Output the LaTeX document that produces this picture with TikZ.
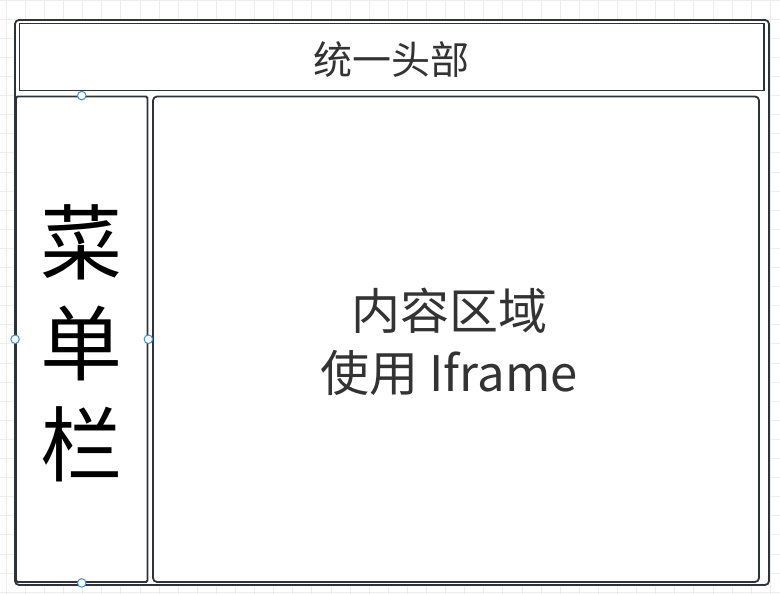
\documentclass[tikz,border=0pt]{standalone}
\usepackage{fontspec}
\newfontfamily\cjk{Noto Sans CJK SC}
\usetikzlibrary{positioning}
\definecolor{Ink}{HTML}{2E333A}
\definecolor{Label}{HTML}{333333}
\definecolor{GridLine}{HTML}{EDEDED}
\definecolor{Handle}{HTML}{3A8EE6}

\tikzset{
  panel/.style={draw=Ink,line width=1.8pt,inner sep=0pt,fill=white},
  handle/.style={circle,draw=Handle,fill=white,line width=1pt,minimum size=8.5pt,inner sep=0pt}
}

\begin{document}
\begin{tikzpicture}[x=1pt,y=-1pt]
\useasboundingbox (0,0) rectangle (780,594);
% background grid
\foreach \gx in {0,...,40} \draw[GridLine,line width=0.8pt] ({6.2+19.1*\gx},0) -- ++(0,594);
\foreach \gy in {0,...,31} \draw[GridLine,line width=0.8pt] (0,{19.1*\gy}) -- ++(780,0);
% frames
\node[panel,rounded corners=4pt,minimum width=754pt,minimum height=565pt] (outer) at (392,302.5) {};
\node[panel,minimum width=744.5pt,minimum height=67pt] (header) at (391.75,57) {};
\node[panel,rounded corners=1.5pt,minimum width=131.5pt,minimum height=485.5pt] (menu) at (81.75,339.25) {};
\node[panel,rounded corners=4pt,minimum width=606pt,minimum height=485.5pt] (content) at (456,339.25) {};
% labels
\node[font={\cjk\fontsize{39}{44}\selectfont},text=Label] (headertext) at (391,60) {统一头部};
\node[font={\cjk\fontsize{82}{101}\selectfont},text=black,align=center] (menutext) at (82,343) {菜\\单\\栏};
\node[font={\cjk\fontsize{49}{62}\selectfont},text=Label,align=center] (contenttext) at (449,342) {内容区域\\使用 Iframe};
% selection handles
\node[handle] (hn) at (menu.north) {};
\node[handle] (hw) at (menu.west) {};
\node[handle] (he) at (menu.east) {};
\node[handle] (hs) at (menu.south) {};
\end{tikzpicture}
\end{document}
